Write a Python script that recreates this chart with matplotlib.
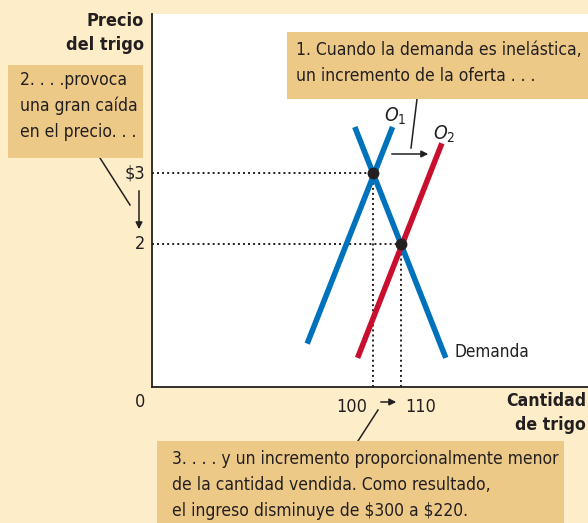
import matplotlib
matplotlib.use("Agg")
import matplotlib.pyplot as plt

# Datos (esquema oferta/demanda del trigo)
demanda_q = [93.5, 126.0]
demanda_p = [3.65, 0.40]
oferta1_q = [76.5, 107.0]
oferta1_p = [0.60, 3.65]
oferta2_q = [94.5, 124.6]
oferta2_p = [0.40, 3.42]
equilibrio_q = [100, 110]
equilibrio_p = [3, 2]
etiquetas_q = ["100", "110"]
etiquetas_p = ["\\$3", "2"]

CREMA = "#FDEDC8"
CAJA = "#EDC987"
AZUL = "#0072BC"
ROJO = "#C8102E"
TEXTO = "#231F20"

plt.rcParams['font.family'] = ['DejaVu Sans']
plt.rcParams['font.stretch'] = 'condensed'
FS = 12.5

W, H = 588, 523
fig = plt.figure(figsize=(W / 100, H / 100), dpi=100, facecolor=CREMA)


def px(x, y):
    # pixeles (desde arriba-izquierda) -> fraccion de figura
    return x / W, 1 - y / H


ax = fig.add_axes([152 / W, 1 - 387 / H, (W - 152) / W, (387 - 14) / H])
ax.set_facecolor("white")
ax.set_xlim(21.07, 176.8)
ax.set_ylim(-0.01, 5.24)
for s in ["top", "right"]:
    ax.spines[s].set_visible(False)
for s in ["left", "bottom"]:
    ax.spines[s].set_linewidth(1.3)
    ax.spines[s].set_color(TEXTO)
ax.set_xticks([])
ax.set_yticks([])

# lineas punteadas hacia los ejes
x0, x1 = ax.get_xlim()
y0, y1 = ax.get_ylim()
for q, p in zip(equilibrio_q, equilibrio_p):
    ax.plot([x0, q], [p, p], ls=(0, (1, 1.6)), color=TEXTO, lw=1.4, zorder=1)
    ax.plot([q, q], [y0, p], ls=(0, (1, 1.6)), color=TEXTO, lw=1.4, zorder=1)

ax.plot(oferta1_q, oferta1_p, color=AZUL, lw=4, solid_capstyle="butt", zorder=2)
ax.plot(demanda_q, demanda_p, color=AZUL, lw=4, solid_capstyle="butt", zorder=2)
ax.plot(oferta2_q, oferta2_p, color=ROJO, lw=4, solid_capstyle="butt", zorder=3)
ax.plot(equilibrio_q, equilibrio_p, "o", color=TEXTO, ms=7.5, zorder=4)

# etiquetas de los ejes
for p, lab in zip(equilibrio_p, etiquetas_p):
    ax.annotate(lab, xy=(0, p), xycoords=("axes fraction", "data"),
                xytext=(-5, 0), textcoords="offset points",
                ha="right", va="center", fontsize=FS + 0.5, color=TEXTO)
ax.annotate(etiquetas_q[0], xy=(equilibrio_q[0], 0), xycoords=("data", "axes fraction"),
            xytext=(-4, -8), textcoords="offset points",
            ha="right", va="top", fontsize=FS + 0.5, color=TEXTO)
ax.annotate(etiquetas_q[1], xy=(equilibrio_q[1], 0), xycoords=("data", "axes fraction"),
            xytext=(3, -8), textcoords="offset points",
            ha="left", va="top", fontsize=FS + 0.5, color=TEXTO)
fig.text(*px(140, 402), "0", ha="center", va="center", fontsize=FS + 0.5, color=TEXTO)

fig.text(*px(144, 33), "Precio\ndel trigo", ha="right", va="center",
         fontsize=13, fontweight="bold", color=TEXTO, linespacing=1.45)
fig.text(*px(586, 413), "Cantidad\nde trigo", ha="right", va="center",
         fontsize=12.7, fontweight="bold", color=TEXTO, linespacing=1.45)

# nombres de curvas
ax.annotate("$O_1$", xy=(oferta1_q[1], oferta1_p[1]), xytext=(2, 0),
            textcoords="offset points", fontsize=14, color=TEXTO, ha="center", va="bottom")
ax.annotate("$O_2$", xy=(oferta2_q[1], oferta2_p[1]), xytext=(1.5, -1),
            textcoords="offset points", fontsize=14, color=TEXTO, ha="center", va="bottom")
ax.annotate("Demanda", xy=(demanda_q[1], demanda_p[1]), xytext=(6, 4),
            textcoords="offset points", fontsize=12.3, color=TEXTO, ha="left", va="center")

# flechas
arr = dict(arrowstyle="-|>", color=TEXTO, lw=1.1, mutation_scale=10)
fig.patches.append(matplotlib.patches.FancyArrowPatch(px(389, 154), px(431, 154),
                                                       transform=fig.transFigure, **arr))
fig.patches.append(matplotlib.patches.FancyArrowPatch(px(139, 188), px(139, 232),
                                                       transform=fig.transFigure, **arr))
fig.patches.append(matplotlib.patches.FancyArrowPatch(px(378, 402), px(399, 402),
                                                       transform=fig.transFigure, **arr))

# lineas guia
for (xa, ya), (xb, yb) in [((417, 99), (411, 148)), ((100, 158), (130, 205)),
                           ((358, 441), (378, 410))]:
    fig.add_artist(matplotlib.lines.Line2D([xa / W, xb / W], [1 - ya / H, 1 - yb / H],
                                           color=TEXTO, lw=1.1))

# cajas de texto
cajas = [
    ((287, 32, 588, 99), (296, 63),
     "1. Cuando la demanda es inelástica,\nun incremento de la oferta . . ."),
    ((8, 65, 143, 158), (20, 106),
     "2. . . .provoca\nuna gran caída\nen el precio. . ."),
    ((157, 441, 564, 523), (172, 485),
     "3. . . . y un incremento proporcionalmente menor\nde la cantidad vendida. Como resultado,\nel ingreso disminuye de \\$300 a \\$220."),
]
for (xa, ya, xb, yb), (tx, ty), txt in cajas:
    fig.add_artist(matplotlib.patches.Rectangle((xa / W, 1 - yb / H), (xb - xa) / W, (yb - ya) / H,
                                                transform=fig.transFigure, facecolor=CAJA,
                                                edgecolor="none", zorder=5))
    fig.text(*px(tx, ty), txt, ha="left", va="center", fontsize=FS, color=TEXTO,
             linespacing=1.55, zorder=6)

fig.savefig("out.png", dpi=100, facecolor=CREMA)
